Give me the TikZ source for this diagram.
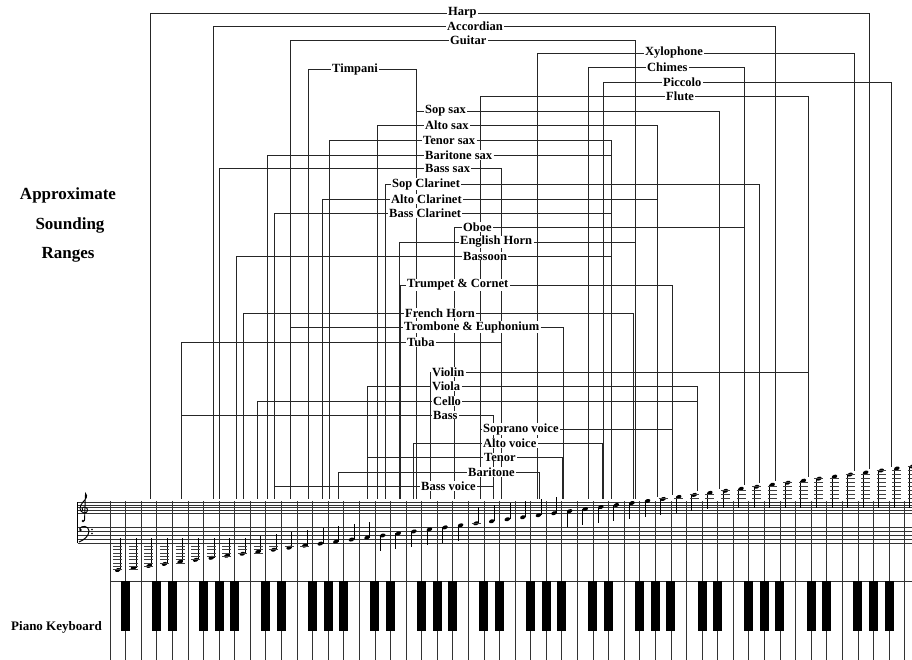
\documentclass[tikz,border=0pt]{standalone}
\usepackage{fontspec}
\setmainfont{Liberation Serif}
\pgfdeclarelayer{background}
\pgfsetlayers{background,main}
\tikzset{
 lab/.style={anchor=west, fill=white, inner xsep=1.2pt, inner ysep=0.3pt, font=\bfseries\fontsize{12.5}{13}\selectfont},
 ttl/.style={font=\bfseries\fontsize{17}{20}\selectfont, inner sep=0pt},
 rl/.style={line width=0.7pt, black!85},
 keyl/.style={line width=0.7pt, black!80},
 staffl/.style={line width=0.5pt, black!80},
 ledger/.style={line width=0.45pt, black!75},
}
\newcommand\rangebr[6]{%
  \node[lab] (#1) at (#3-1.2,#4) {#2};
  \pgfmathsetmacro\yl{min(499,570-2.03*round((#5-120.8)/15.58)-4)}%
  \pgfmathsetmacro\yr{min(499,570-2.03*round((#6-120.8)/15.58)-4)}%
  \begin{pgfonlayer}{background}
  \draw[rl] (#1.west) -| (#5,\yl);
  \draw[rl] (#1.east) -| (#6,\yr);
  \end{pgfonlayer}
}
\begin{document}
\begin{tikzpicture}[x=1pt,y=-1pt]
\useasboundingbox (0,0) rectangle (912,660);
\clip (0,0) rectangle (912,660);

% titles
\node[ttl] (t1) at (68,195) {Approximate};
\node[ttl] (t2) at (70,225) {Sounding};
\node[ttl] (t3) at (68,255) {Ranges};
\node[anchor=west, inner sep=0pt, font=\bfseries\fontsize{13}{14}\selectfont] (pk) at (11,627) {Piano Keyboard};

% staff lines
\foreach \y in {502,504.75,507.5,510.25,513,527,531,535,539,543}
  \draw[staffl] (77.5,\y) -- (912,\y);
\draw[line width=0.8pt] (77.5,502) -- (77.5,543);
% treble clef
\draw[line width=0.9pt] (84.5,521) -- (85.5,493.5) .. controls (88,496) and (86,499) .. (83,502) .. controls (79,506) and (79,512) .. (84,513) .. controls (88,513.5) and (89,508) .. (85,507) .. controls (82,506.5) and (81,510) .. (83,511);
\fill (83,521) circle (1.3pt);
% bass clef
\fill (80.5,530) circle (1.4pt);
\draw[line width=1pt] (79.5,529) .. controls (81,525) and (89,525.5) .. (89,531) .. controls (89,536) and (84,540) .. (79,542);
\fill (92,529.5) circle (0.8pt) (92,533.5) circle (0.8pt);

% key boundary lines
\foreach \k in {0,...,52}
  \draw[keyl] (110+15.58*\k,501) -- (110+15.58*\k,660);
\draw[keyl] (110,581) -- (912,581);
% black keys
\foreach \k in {0,...,50}{
  \pgfmathtruncatemacro\m{mod(\k,7)}
  \ifnum\m=1\else\ifnum\m=4\else
    \fill (110+15.58*\k+15.58-4.5,581) rectangle (110+15.58*\k+15.58+4.5,631);
  \fi\fi
}

% notes
\foreach \k in {0,...,51}{
  \pgfmathsetmacro\xc{117.8+15.58*\k}
  \pgfmathsetmacro\yn{570-2.03*\k}
  \fill[shift={(\xc,\yn)}, rotate=20] (0,0) ellipse [x radius=2.9pt, y radius=1.9pt];
  \pgfmathtruncatemacro\up{(\k<17) || ((\k>22) && (\k<29))}
  \ifnum\up=1
    \pgfmathsetmacro\st{min(\yn-16,538)}
    \draw[line width=0.6pt] (\xc+2.6,\yn) -- (\xc+2.6,\st);
  \else
    \pgfmathsetmacro\st{max(\yn+16,508)}
    \draw[line width=0.6pt] (\xc-2.6,\yn) -- (\xc-2.6,\st);
  \fi
  \pgfmathtruncatemacro\nl{floor((\yn+1.5-543)/3.3)}
  \ifnum\nl>0
    \foreach \j in {1,...,\nl}
      \draw[ledger] (\xc-4.5,543+3.3*\j) -- (\xc+4.5,543+3.3*\j);
  \fi
  \pgfmathtruncatemacro\nh{floor((502-\yn+1)/4)}
  \ifnum\nh>0
    \foreach \j in {1,...,\nh}
      \draw[ledger] (\xc-4.5,502-4*\j) -- (\xc+4.5,502-4*\j);
  \fi
}
\draw[ledger] (117.8+15.58*23-4.5,570-2.03*23) -- (117.8+15.58*23+4.5,570-2.03*23);

% instrument ranges: name, text, text-left, y, low x, high x
\rangebr{harp}{Harp}{448}{13}{150}{869}
\rangebr{acc}{Accordian}{447}{26}{213}{775}
\rangebr{guit}{Guitar}{450}{40}{290}{635}
\rangebr{xylo}{Xylophone}{645}{53}{537}{854}
\rangebr{chim}{Chimes}{647}{67}{588}{744}
\rangebr{picc}{Piccolo}{663}{82}{603}{891}
\rangebr{flut}{Flute}{666}{96}{480}{808}
\rangebr{timp}{Timpani}{332}{69}{308}{416}
\rangebr{sops}{Sop sax}{425}{111}{416}{719}
\rangebr{alts}{Alto sax}{425}{125}{377}{657}
\rangebr{tens}{Tenor sax}{423}{140}{329}{611}
\rangebr{bars}{Baritone sax}{425}{155}{267}{611}
\rangebr{bssx}{Bass sax}{425}{168}{219}{501}
\rangebr{sopc}{Sop Clarinet}{392}{184}{385}{759}
\rangebr{altc}{Alto Clarinet}{391}{199}{322}{657}
\rangebr{basc}{Bass Clarinet}{389}{213}{274}{611}
\rangebr{oboe}{Oboe}{463}{227}{454}{744}
\rangebr{engh}{English Horn}{460}{242}{399}{635}
\rangebr{bsn}{Bassoon}{463}{256}{236}{611}
\rangebr{trp}{Trumpet \& Cornet}{407}{285}{400}{672}
\rangebr{frh}{French Horn}{405}{313}{243}{633}
\rangebr{trb}{Trombone \& Euphonium}{404}{327}{290}{563}
\rangebr{tuba}{Tuba}{407}{342}{181}{501}
\rangebr{vln}{Violin}{432}{372}{430}{808}
\rangebr{vla}{Viola}{432}{386}{367}{697}
\rangebr{vc}{Cello}{433}{401}{257}{697}
\rangebr{cb}{Bass}{433}{415}{181}{493}
\rangebr{sopv}{Soprano voice}{483}{429}{480}{672}
\rangebr{altv}{Alto voice}{483}{443}{413}{602}
\rangebr{tenv}{Tenor}{484}{457}{367}{562}
\rangebr{barv}{Baritone}{468}{472}{338}{539}
\rangebr{bsv}{Bass voice}{421}{486}{274}{493}
\end{tikzpicture}
\end{document}
